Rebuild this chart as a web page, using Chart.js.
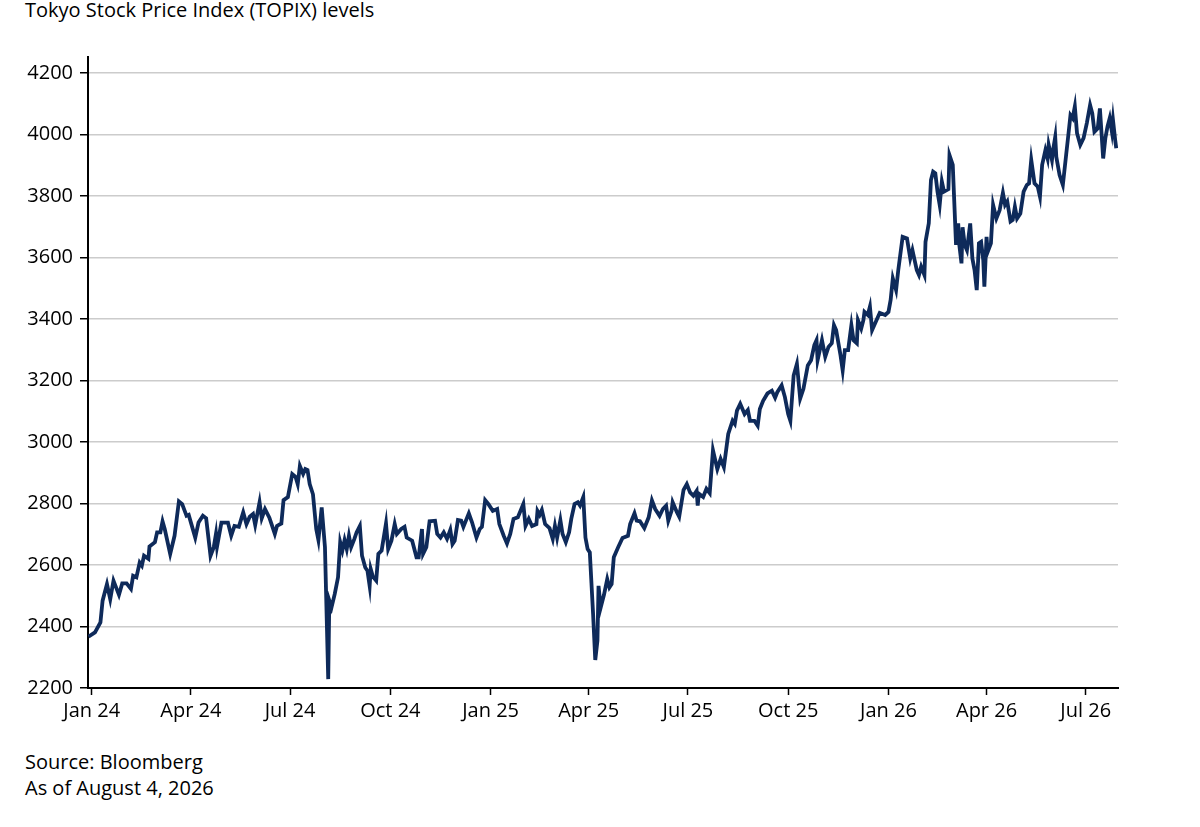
<!DOCTYPE html>
<html>
<head>
<meta charset="utf-8">
<script src="https://cdn.jsdelivr.net/npm/chart.js@4.4.1/dist/chart.umd.min.js"></script>
<style>
  body { margin: 0; background: #fff; width: 1200px; height: 827px; overflow: hidden; font-family: 'Open Sans', sans-serif; color: #000; }
  #title { position: absolute; left: 25px; top: -3px; font-size: 20px; line-height: 26px; white-space: nowrap; }
  #chartBox { position: absolute; left: 0; top: 0; width: 1200px; height: 730px; }
  #note { position: absolute; left: 25px; top: 749px; font-size: 20px; line-height: 26px; white-space: nowrap; }
</style>
</head>
<body>
<div id="title">Tokyo Stock Price Index (TOPIX) levels</div>
<div id="chartBox"><canvas id="topixChart"></canvas></div>
<div id="note">Source: Bloomberg<br>As of August 4, 2026</div>
<script>
// Dias desde el 1 de enero de 2024 y nivel del TOPIX
const tradeDays = [
  -3, 3, 8, 10, 14, 17, 20, 25, 28, 32,
  36, 38, 41, 44, 46, 48, 52, 53, 58, 60,
  63, 65, 67, 72, 76, 80, 83, 87, 89, 95,
  98, 102, 105, 109, 112, 114, 115, 119, 125, 128,
  131, 135, 139, 142, 145, 148, 150, 154, 156, 159,
  163, 165, 168, 170, 174, 176, 180, 184, 187, 189,
  191, 194, 196, 198, 200, 203, 206, 208, 211, 214,
  217, 218, 220, 223, 226, 228, 230, 232, 234, 236,
  238, 241, 243, 246, 248, 251, 253, 255, 256, 258,
  261, 263, 266, 270, 272, 275, 278, 280, 284, 287,
  289, 294, 298, 300, 303, 304, 307, 310, 315, 317,
  320, 323, 326, 329, 331, 333, 336, 339, 341, 346,
  349, 353, 356, 358, 361, 364, 368, 372, 374, 378,
  381, 384, 387, 391, 396, 398, 401, 404, 408, 409,
  411, 413, 416, 420, 423, 425, 427, 430, 432, 435,
  438, 440, 443, 446, 448, 451, 453, 455, 457, 460,
  462, 464, 465, 467, 470, 473, 475, 477, 479, 483,
  487, 492, 494, 498, 500, 503, 507, 511, 514, 517,
  521, 524, 527, 529, 532, 533, 537, 539, 543, 546,
  549, 552, 555, 556, 557, 561, 564, 567, 570, 574,
  577, 580, 584, 588, 590, 592, 595, 599, 602, 604,
  608, 611, 613, 616, 620, 624, 627, 629, 633, 636,
  639, 641, 644, 647, 650, 653, 657, 660, 663, 665,
  666, 670, 673, 676, 679, 681, 683, 687, 689, 691,
  694, 697, 699, 702, 703, 706, 708, 709, 712, 714,
  716, 720, 723, 728, 731, 733, 735, 738, 740, 744,
  748, 751, 753, 757, 759, 761, 764, 765, 768, 770,
  772, 774, 776, 778, 780, 782, 786, 787, 790, 793,
  795, 796, 798, 799, 801, 803, 806, 808, 810, 812,
  814, 816, 818, 819, 821, 822, 825, 827, 830, 833,
  836, 838, 840, 843, 845, 847, 849, 852, 855, 858,
  860, 862, 865, 868, 870, 872, 875, 877, 878, 881,
  882, 884, 885, 888, 891, 894, 896, 898, 900, 902,
  904, 907, 910, 913, 916, 918, 920, 923, 925, 928,
  930, 932, 934, 936, 937, 939, 940
];

const topixLevels = [
  2367, 2381, 2413, 2484, 2538, 2489, 2549, 2503, 2540, 2540,
  2522, 2565, 2560, 2608, 2598, 2630, 2620, 2660, 2674, 2706,
  2706, 2742, 2717, 2636, 2695, 2807, 2798, 2760, 2763, 2689,
  2738, 2760, 2752, 2630, 2658, 2701, 2660, 2738, 2738, 2695,
  2727, 2724, 2771, 2733, 2757, 2766, 2730, 2804, 2752, 2782,
  2754, 2733, 2701, 2727, 2735, 2811, 2821, 2896, 2887, 2863,
  2922, 2896, 2912, 2909, 2863, 2830, 2717, 2681, 2787, 2658,
  2229, 2484, 2462, 2506, 2560, 2674, 2647, 2681, 2652, 2695,
  2658, 2685, 2706, 2727, 2630, 2592, 2581, 2532, 2587, 2562,
  2549, 2636, 2647, 2735, 2652, 2679, 2733, 2701, 2717, 2724,
  2689, 2679, 2625, 2625, 2717, 2636, 2658, 2742, 2744, 2701,
  2689, 2706, 2685, 2714, 2668, 2679, 2746, 2744, 2724, 2768,
  2738, 2689, 2717, 2724, 2811, 2798, 2776, 2782, 2733, 2695,
  2670, 2701, 2750, 2755, 2798, 2727, 2750, 2727, 2733, 2776,
  2763, 2779, 2733, 2720, 2685, 2727, 2689, 2746, 2701, 2674,
  2706, 2750, 2798, 2804, 2793, 2821, 2689, 2652, 2641, 2441,
  2291, 2354, 2532, 2462, 2503, 2554, 2527, 2538, 2625, 2658,
  2688, 2695, 2733, 2768, 2744, 2742, 2720, 2755, 2810, 2782,
  2760, 2782, 2793, 2744, 2776, 2804, 2771, 2757, 2844, 2863,
  2836, 2825, 2841, 2793, 2832, 2821, 2848, 2834, 2973, 2912,
  2945, 2918, 3026, 3069, 3059, 3102, 3124, 3091, 3104, 3069,
  3069, 3053, 3107, 3134, 3158, 3167, 3144, 3162, 3184, 3146,
  3091, 3069, 3216, 3254, 3141, 3173, 3249, 3266, 3315, 3331,
  3266, 3331, 3277, 3309, 3321, 3380, 3364, 3282, 3233, 3299,
  3299, 3380, 3331, 3321, 3396, 3369, 3396, 3423, 3413, 3440,
  3364, 3396, 3420, 3413, 3423, 3462, 3532, 3494, 3559, 3667,
  3662, 3597, 3624, 3559, 3543, 3570, 3543, 3651, 3711, 3852,
  3879, 3874, 3814, 3771, 3847, 3814, 3822, 3933, 3901, 3641,
  3711, 3641, 3581, 3698, 3641, 3624, 3711, 3597, 3559, 3494,
  3646, 3651, 3591, 3505, 3667, 3618, 3646, 3771, 3727, 3754,
  3810, 3771, 3782, 3717, 3722, 3765, 3727, 3743, 3814, 3836,
  3841, 3917, 3841, 3830, 3798, 3901, 3949, 3922, 3966, 3917,
  3949, 3992, 3927, 3868, 3836, 3933, 3997, 4063, 4053, 4091,
  4004, 3966, 3988, 4037, 4096, 4069, 4009, 4020, 4085, 3922,
  3988, 4026, 4053, 4009, 4047, 3982, 3955
];

// Marcas del eje X (inicio de cada trimestre)
const quarterDays = [0, 91, 182, 274, 366, 456, 547, 639, 731, 821, 912];
const quarterLabels = ['Jan 24', 'Apr 24', 'Jul 24', 'Oct 24', 'Jan 25', 'Apr 25', 'Jul 25', 'Oct 25', 'Jan 26', 'Apr 26', 'Jul 26'];

// Marcas del eje Y
const levelTicks = [2200, 2400, 2600, 2800, 3000, 3200, 3400, 3600, 3800, 4000, 4200];

const tickFont = { family: 'Open Sans', size: 20 };

const ctx = document.getElementById('topixChart').getContext('2d');
new Chart(ctx, {
  type: 'line',
  data: {
    datasets: [{
      label: 'TOPIX',
      data: tradeDays.map((d, i) => ({ x: d, y: topixLevels[i] })),
      borderColor: '#0e2a5a',
      borderWidth: 3.8,
      pointRadius: 0,
      tension: 0,
      fill: false
    }]
  },
  options: {
    responsive: true,
    maintainAspectRatio: false,
    animation: false,
    layout: {
      padding: { left: 0, right: 82, top: 57, bottom: 0 }
    },
    plugins: {
      legend: { display: false },
      tooltip: { enabled: false }
    },
    scales: {
      x: {
        type: 'linear',
        min: -3.4,
        max: 941.6,
        afterBuildTicks: (scale) => {
          scale.ticks = quarterDays.map(v => ({ value: v }));
        },
        afterFit: (scale) => { scale.height = 42; },
        grid: {
          drawOnChartArea: false,
          drawTicks: true,
          tickLength: 7,
          tickColor: '#000',
          tickWidth: 1.5
        },
        border: { color: '#000', width: 2 },
        ticks: {
          autoSkip: false,
          maxRotation: 0,
          padding: 4,
          color: '#000',
          font: tickFont,
          callback: (value) => {
            const idx = quarterDays.indexOf(value);
            return idx >= 0 ? quarterLabels[idx] : '';
          }
        }
      },
      y: {
        type: 'linear',
        min: 2200,
        max: 4252,
        afterBuildTicks: (scale) => {
          scale.ticks = levelTicks.map(v => ({ value: v }));
        },
        afterFit: (scale) => { scale.width = 88; },
        grid: {
          color: '#cccccc',
          lineWidth: 1.5,
          drawTicks: true,
          tickLength: 8,
          tickColor: '#000',
          tickWidth: 1.5
        },
        border: { color: '#000', width: 2 },
        ticks: {
          padding: 7,
          color: '#000',
          font: tickFont,
          callback: (value) => String(value)
        }
      }
    }
  }
});
</script>
</body>
</html>
